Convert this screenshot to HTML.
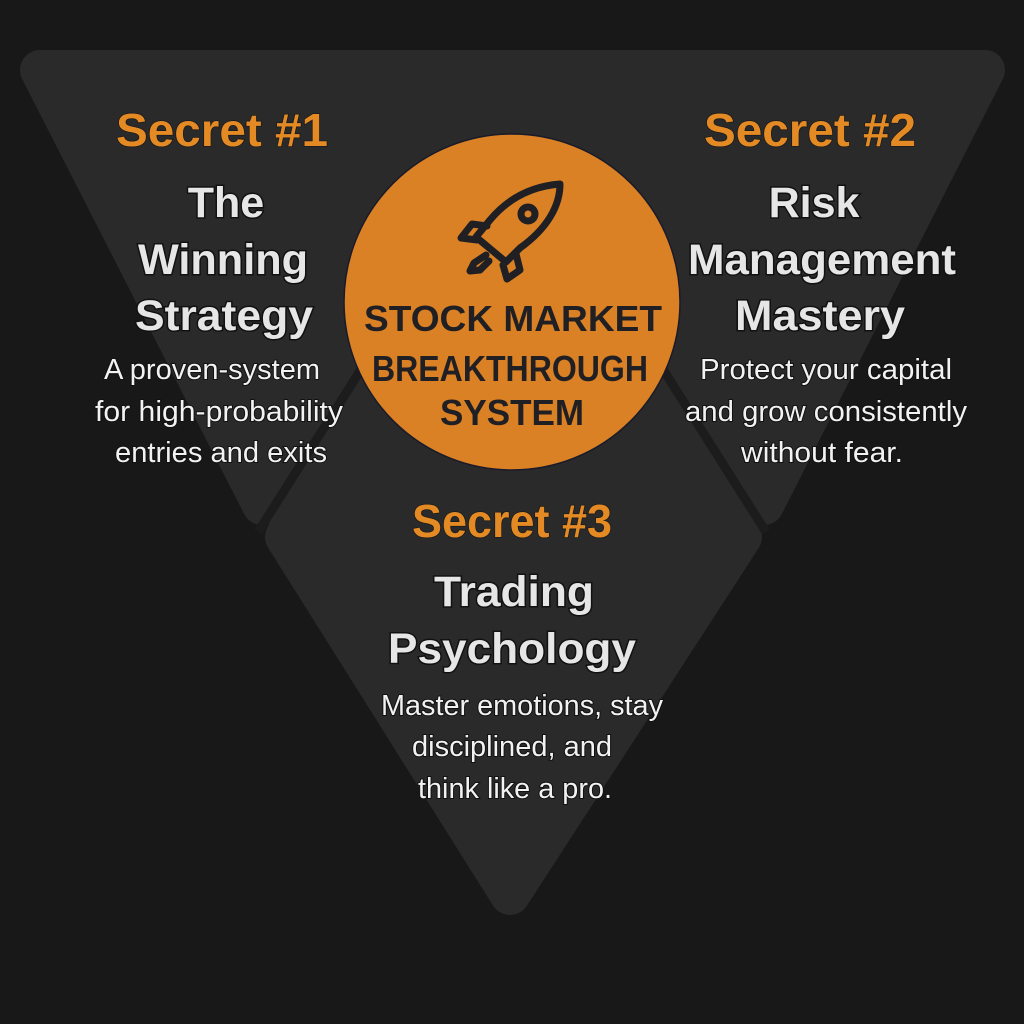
<!DOCTYPE html>
<html><head><meta charset="utf-8"><style>
html,body{margin:0;padding:0;background:#181818;}
svg{display:block}
text{font-family:"Liberation Sans","DejaVu Sans",sans-serif;text-anchor:middle;}
.o{fill:#e48a25;font-weight:bold;font-size:46px;stroke:#1a1a1a;stroke-width:1.5px;paint-order:stroke}
.t{fill:#e6e6e6;font-weight:bold;font-size:43px;stroke:#111;stroke-width:3px;paint-order:stroke}
.d{fill:#f2f2f2;font-size:29px;stroke:#111;stroke-width:2px;paint-order:stroke}
.c{fill:#1f1f24;font-weight:bold;font-size:36px;}
</style></head><body>
<svg width="1024" height="1024" viewBox="0 0 1024 1024">
<rect width="1024" height="1024" fill="#181818"/>
<g fill="#2a2a2a" stroke="#2a2a2a" stroke-width="40" stroke-linejoin="round">
<polygon points="40,70 560,70 262,505"/>
<polygon points="466,70 985,70 764,505"/>
<polygon points="285,537 372,372 652,372 742,537 510,895"/>
</g>
<g stroke="#1c1c1c" stroke-width="9">
<line x1="258" y1="532" x2="372" y2="352"/>
<line x1="766" y1="532" x2="652" y2="352"/>
</g>
<circle cx="512" cy="302" r="168" fill="#d98124" stroke="#1a1a2a" stroke-width="1.5"/>
<g fill="none" stroke="#1f1f24" stroke-width="7" stroke-linejoin="round" stroke-linecap="round">
<path d="M560,184 C535,186 510,196 490,220 L476,237 L506,262 L520,248 C548,228 560,205 560,184 Z"/>
<circle cx="528" cy="214" r="7"/>
<path d="M487,226 L472,224 L461,238 L477,240"/>
<path d="M516,254 L520,270 L507,279 L503,265"/>
<path d="M486,255 L474,263 L470,271 L480,270 L489,261"/>
</g>
<g lengthAdjust="spacingAndGlyphs">
<text class="c" x="513" y="331" textLength="298" lengthAdjust="spacingAndGlyphs">STOCK MARKET</text>
<text class="c" x="510" y="381" textLength="276" lengthAdjust="spacingAndGlyphs">BREAKTHROUGH</text>
<text class="c" x="512" y="425" textLength="144" lengthAdjust="spacingAndGlyphs">SYSTEM</text>
<text class="o" x="222" y="146" textLength="212" lengthAdjust="spacingAndGlyphs">Secret #1</text>
<text class="t" x="226" y="217">The</text>
<text class="t" x="223" y="274" textLength="170" lengthAdjust="spacingAndGlyphs">Winning</text>
<text class="t" x="224" y="330" textLength="178" lengthAdjust="spacingAndGlyphs">Strategy</text>
<text class="d" x="212" y="379" textLength="216" lengthAdjust="spacingAndGlyphs">A proven-system</text>
<text class="d" x="219" y="421" textLength="248" lengthAdjust="spacingAndGlyphs">for high-probability</text>
<text class="d" x="221" y="462" textLength="212" lengthAdjust="spacingAndGlyphs">entries and exits</text>
<text class="o" x="810" y="146" textLength="212" lengthAdjust="spacingAndGlyphs">Secret #2</text>
<text class="t" x="814" y="217">Risk</text>
<text class="t" x="822" y="274" textLength="268" lengthAdjust="spacingAndGlyphs">Management</text>
<text class="t" x="820" y="330" textLength="170" lengthAdjust="spacingAndGlyphs">Mastery</text>
<text class="d" x="826" y="379" textLength="252" lengthAdjust="spacingAndGlyphs">Protect your capital</text>
<text class="d" x="826" y="421" textLength="282" lengthAdjust="spacingAndGlyphs">and grow consistently</text>
<text class="d" x="822" y="462" textLength="162" lengthAdjust="spacingAndGlyphs">without fear.</text>
<text class="o" x="512" y="537" textLength="200" lengthAdjust="spacingAndGlyphs">Secret #3</text>
<text class="t" x="514" y="606" textLength="160" lengthAdjust="spacingAndGlyphs">Trading</text>
<text class="t" x="512" y="663" textLength="248" lengthAdjust="spacingAndGlyphs">Psychology</text>
<text class="d" x="522" y="715" textLength="282" lengthAdjust="spacingAndGlyphs">Master emotions, stay</text>
<text class="d" x="512" y="756" textLength="200" lengthAdjust="spacingAndGlyphs">disciplined, and</text>
<text class="d" x="515" y="798" textLength="194" lengthAdjust="spacingAndGlyphs">think like a pro.</text>
</g>
</svg>
</body></html>
